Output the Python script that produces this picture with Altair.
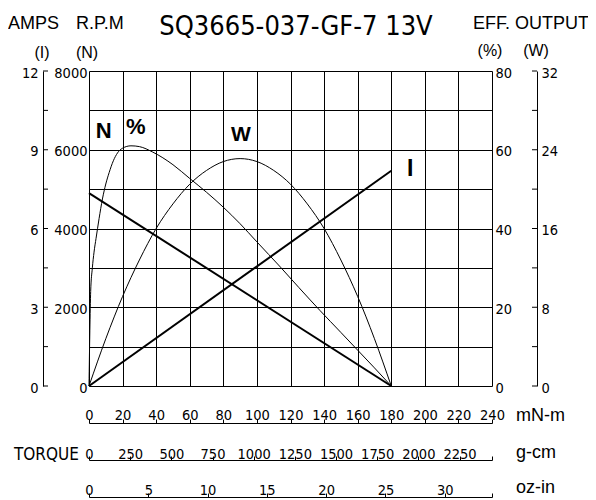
import altair as alt
import pandas as pd

# ---------------- data ----------------
# straight characteristic lines (torque in mN-m)
torque_line = [0, 180]
speed_rpm = [4900, 0]
current_a = [0.0, 8.2]

# efficiency curve (%)
torque_eff = [0, 0.5, 1, 2, 3, 4.2, 6, 8, 10, 12, 14.5, 17, 20, 25, 30, 38, 50, 60,
              70, 80, 90, 100, 114, 125, 137.5, 150, 160, 170, 180]
eff_pct = [0, 14, 24, 30, 34, 37.5, 42.5, 47.5, 51.3, 54.2, 57.2, 59.2, 60.4, 61, 60.8,
           59.4, 56.2, 52.7, 49.2, 45.4, 41.2, 36.6, 30.2, 25, 19.2, 13.6, 9.1, 4.6, 0]

# output power curve (W)
torque_out = [0, 10, 20, 30, 40, 50, 60, 70, 80, 90, 100, 110, 120, 130, 140, 150, 160, 170, 180]
output_w = [0, 4.8, 9.1, 12.8, 16.0, 18.5, 20.5, 21.9, 22.8, 23.1, 22.8, 21.9, 20.5, 18.5,
            16.0, 12.8, 9.1, 4.8, 0]

# axis tick values
mnm_ticks = list(range(0, 241, 20))
gcm_ticks = [0, 250, 500, 750, 1000, 1250, 1500, 1750, 2000, 2250]
ozin_ticks = [0, 5, 10, 15, 20, 25, 30]
rpm_grid = list(range(0, 8001, 1000))
amps_labels = [0, 3, 6, 9, 12]
amps_minor = [0, 1.5, 3, 4.5, 6, 7.5, 9, 10.5, 12]
eff_labels = [0, 20, 40, 60, 80]
w_labels = [0, 8, 16, 24, 32]
w_minor = [0, 4, 8, 12, 16, 20, 24, 28, 32]

TORQUE_MAX = 240
GCM_MAX = TORQUE_MAX * 10.1972
OZIN_MAX = TORQUE_MAX * 0.141612

W, H = 403, 315
NUM_FONT = "DejaVu Sans Condensed, Liberation Sans Narrow, sans-serif"
TXT_FONT = "Liberation Sans, Arial, sans-serif"
NUM_SIZE = 14.5

x_torque = alt.Scale(domain=[0, TORQUE_MAX], nice=False, zero=False)

num_axis = dict(labelFont=NUM_FONT, labelFontSize=NUM_SIZE, labelColor="black",
                domainColor="black", tickColor="black", title=None,
                labelOverlap=False, labelFlush=False)

# speed line + grid + rpm axis
speed_df = pd.DataFrame({"torque": torque_line, "rpm": speed_rpm})
speed = alt.Chart(speed_df).mark_line(color="black", strokeWidth=2).encode(
    x=alt.X("torque:Q", scale=x_torque,
            axis=alt.Axis(orient="bottom", values=mnm_ticks, grid=True, labels=False,
                          ticks=False, domain=False, gridColor="black", gridWidth=1,
                          gridOpacity=1, title=None)),
    y=alt.Y("rpm:Q", scale=alt.Scale(domain=[0, 8000], nice=False),
            axis=alt.Axis(orient="left", values=rpm_grid, grid=True, gridColor="black",
                          gridWidth=1, gridOpacity=1, ticks=False, domain=False, format="d",
                          labelExpr="datum.value % 2000 == 0 ? datum.label : ''",
                          labelPadding=2, labelOffset=2, **num_axis)),
)

# current line + amps axis + mN-m axis
cur_df = pd.DataFrame({"torque": torque_line, "amps": current_a})
current = alt.Chart(cur_df).mark_line(color="black", strokeWidth=2).encode(
    x=alt.X("torque:Q", scale=x_torque,
            axis=alt.Axis(orient="top", offset=-352, values=mnm_ticks, tickSize=4,
                          labelPadding=0, labelBaseline="alphabetic", domain=True,
                          grid=False, **num_axis)),
    y=alt.Y("amps:Q", scale=alt.Scale(domain=[0, 12], nice=False),
            axis=alt.Axis(orient="left", offset=46, values=amps_labels, ticks=False,
                          domain=True, grid=False, labelPadding=5, labelOffset=2, **num_axis)),
)

# efficiency curve + % axis
eff_df = pd.DataFrame({"torque": torque_eff, "eff": eff_pct})
eff = alt.Chart(eff_df).mark_line(color="black", strokeWidth=1, interpolate="monotone").encode(
    x=alt.X("torque:Q", scale=x_torque, axis=None),
    y=alt.Y("eff:Q", scale=alt.Scale(domain=[0, 80], nice=False),
            axis=alt.Axis(orient="right", values=eff_labels, ticks=False, domain=False,
                          grid=False, labelPadding=3, labelOffset=2, **num_axis)),
)

# output curve + W axis
out_df = pd.DataFrame({"torque": torque_out, "watts": output_w})
out = alt.Chart(out_df).mark_line(color="black", strokeWidth=1, interpolate="monotone").encode(
    x=alt.X("torque:Q", scale=x_torque, axis=None),
    y=alt.Y("watts:Q", scale=alt.Scale(domain=[0, 32], nice=False),
            axis=alt.Axis(orient="right", offset=45, values=w_labels, ticks=False,
                          domain=True, grid=False, labelPadding=4, labelOffset=2, **num_axis)),
)

# g-cm axis
gcm_df = pd.DataFrame({"gcm": gcm_ticks})
gcm = alt.Chart(gcm_df).mark_point(opacity=0).encode(
    x=alt.X("gcm:Q", scale=alt.Scale(domain=[0, GCM_MAX], nice=False, zero=False),
            axis=alt.Axis(orient="top", offset=-389, values=gcm_ticks + [GCM_MAX],
                          tickSize=4, labelPadding=-2, labelBaseline="alphabetic",
                          labelExpr="datum.value > 2400 ? '' : datum.label", format="d",
                          domain=True, grid=False, **num_axis)),
)

# oz-in axis
oz_df = pd.DataFrame({"ozin": ozin_ticks})
oz = alt.Chart(oz_df).mark_point(opacity=0).encode(
    x=alt.X("ozin:Q", scale=alt.Scale(domain=[0, OZIN_MAX], nice=False, zero=False),
            axis=alt.Axis(orient="top", offset=-426, values=ozin_ticks + [OZIN_MAX],
                          tickSize=4, labelPadding=-1, labelBaseline="alphabetic",
                          labelExpr="datum.value > 33 ? '' : datum.label", format="d",
                          domain=True, grid=False, **num_axis)),
)

# inward ticks on the amps and watts axes
amps_tick = alt.Chart(pd.DataFrame({"amps": amps_minor})).mark_rule(color="black", strokeWidth=1).encode(
    y=alt.Y("amps:Q", scale=alt.Scale(domain=[0, 12], nice=False), axis=None),
    x=alt.value(-46), x2=alt.value(-41),
)
w_tick = alt.Chart(pd.DataFrame({"watts": w_minor})).mark_rule(color="black", strokeWidth=1).encode(
    y=alt.Y("watts:Q", scale=alt.Scale(domain=[0, 32], nice=False), axis=None),
    x=alt.value(W + 40), x2=alt.value(W + 45),
)


def label(txt, x, y, size, font=TXT_FONT, align="left", baseline="alphabetic", weight="normal"):
    return alt.Chart(pd.DataFrame({"t": [txt]})).mark_text(
        font=font, fontSize=size, align=align, baseline=baseline, fontWeight=weight,
        color="black",
    ).encode(text="t:N", x=alt.value(x), y=alt.value(y))


texts = [
    label("SQ3665-037-GF-7 13V", 207, -36, 27, font=NUM_FONT, align="center"),
    label("AMPS", -81, -42, 18),
    label("R.P.M", -13, -42, 18),
    label("EFF. OUTPUT", 384, -42, 18),
    label("(I)", -47, -18, 16, align="center", baseline="middle"),
    label("(N)", -2, -18, 16, align="center", baseline="middle"),
    label("(%)", 401, -20, 16, align="center", baseline="middle"),
    label("(W)", 447, -20, 16, align="center", baseline="middle"),
    label("TORQUE", -75, 389, 17, font=NUM_FONT),
    label("mN-m", 427, 350, 18),
    label("g-cm", 427, 386.5, 18),
    label("oz-in", 427, 422, 18),
    label("N", 14.7, 59.8, 22, align="center", baseline="middle", weight="bold"),
    label("%", 46.8, 55.7, 22, align="center", baseline="middle", weight="bold"),
    label("W", 151.8, 63.5, 21, align="center", baseline="middle", weight="bold"),
    label("I", 321.3, 98, 23, align="center", baseline="middle", weight="bold"),
]

chart = alt.layer(
    speed, current, eff, out, gcm, oz, amps_tick, w_tick, *texts
).resolve_scale(
    x="independent", y="independent"
).resolve_axis(
    x="independent", y="independent"
).properties(
    width=W, height=H,
    padding={"left": 81, "top": 63, "right": 96, "bottom": 114},
    autosize=alt.AutoSizeParams(type="none"),
    background="white",
).configure_view(stroke=None)

chart.save("out.html", embed_options={"renderer": "svg", "actions": False})
